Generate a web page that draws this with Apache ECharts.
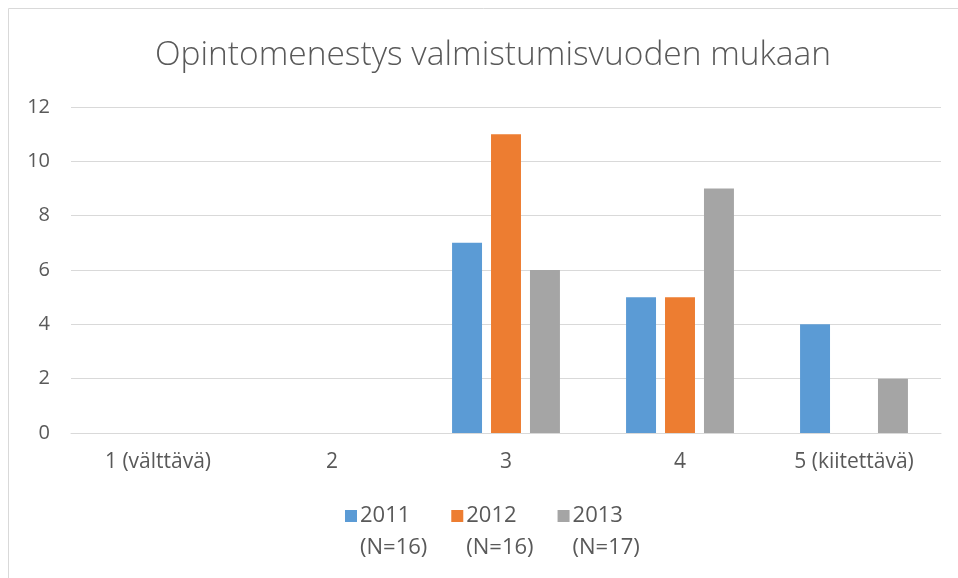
<!DOCTYPE html>
<html>
<head>
<meta charset="utf-8">
<script src="https://cdn.jsdelivr.net/npm/echarts@6/dist/echarts.min.js"></script>
<style>
  html, body { margin: 0; padding: 0; background: #fff; }
  #chart { width: 958px; height: 578px; }
</style>
</head>
<body>
<div id="chart"></div>
<script>
const categories = ['1 (välttävä)', '2', '3', '4', '5 (kiitettävä)'];
const seriesNames = ['2011', '2012', '2013'];
const groupSizes = ['(N=16)', '(N=16)', '(N=17)'];
const values2011 = [0, 0, 7, 5, 4];
const values2012 = [0, 0, 11, 5, 0];
const values2013 = [0, 0, 6, 9, 2];
const yTicks = [0, 2, 4, 6, 8, 10, 12];

const colors = ['#5b9bd5', '#ed7d31', '#a5a5a5'];
const font = '"Open Sans", "Liberation Sans", sans-serif';

const myChart = echarts.init(document.getElementById('chart'));

const option = {
  color: colors,
  animation: false,
  title: {
    text: 'Opintomenestys valmistumisvuoden mukaan',
    left: 488,
    top: 33,
    textAlign: 'center',
    textStyle: {
      fontFamily: font,
      fontWeight: 300,
      fontSize: 33.5,
      color: '#595959'
    }
  },
  graphic: [
    {
      type: 'rect',
      shape: { x: 8.5, y: 8.5, width: 1000, height: 600 },
      style: { fill: 'none', stroke: '#d9d9d9', lineWidth: 1 },
      silent: true
    }
  ],
  legend: {
    data: seriesNames,
    left: 345,
    top: 500,
    padding: 0,
    itemGap: 24,
    itemWidth: 12,
    itemHeight: 44,
    icon: 'path://M0,0L12,0L12,12L0,12Z M0,44',
    formatter: function (name) {
      return name + '\n' + groupSizes[seriesNames.indexOf(name)];
    },
    textStyle: {
      fontFamily: font,
      fontSize: 22,
      lineHeight: 32,
      color: '#595959',
      padding: [0, 0, 0, -2]
    }
  },
  grid: {
    left: 71,
    right: 17,
    top: 107,
    bottom: 145,
    containLabel: false
  },
  xAxis: {
    type: 'category',
    data: categories,
    axisLine: { show: true, lineStyle: { color: '#d9d9d9', width: 1 } },
    axisTick: { show: false },
    axisLabel: {
      interval: 0,
      margin: 19,
      fontFamily: font,
      fontSize: 21,
      color: '#595959'
    }
  },
  yAxis: {
    type: 'value',
    min: yTicks[0],
    max: yTicks[yTicks.length - 1],
    interval: 2,
    axisLine: { show: false },
    axisTick: { show: false },
    splitLine: { lineStyle: { color: '#d9d9d9', width: 1 } },
    axisLabel: {
      margin: 21,
      fontFamily: font,
      fontSize: 20,
      color: '#595959'
    }
  },
  series: [
    { name: seriesNames[0], type: 'bar', data: values2011, barGap: '30%', barCategoryGap: '38%' },
    { name: seriesNames[1], type: 'bar', data: values2012, barGap: '30%', barCategoryGap: '38%' },
    { name: seriesNames[2], type: 'bar', data: values2013, barGap: '30%', barCategoryGap: '38%' }
  ]
};

myChart.setOption(option);
window.addEventListener('resize', function () {
  myChart.resize();
});
</script>
</body>
</html>
